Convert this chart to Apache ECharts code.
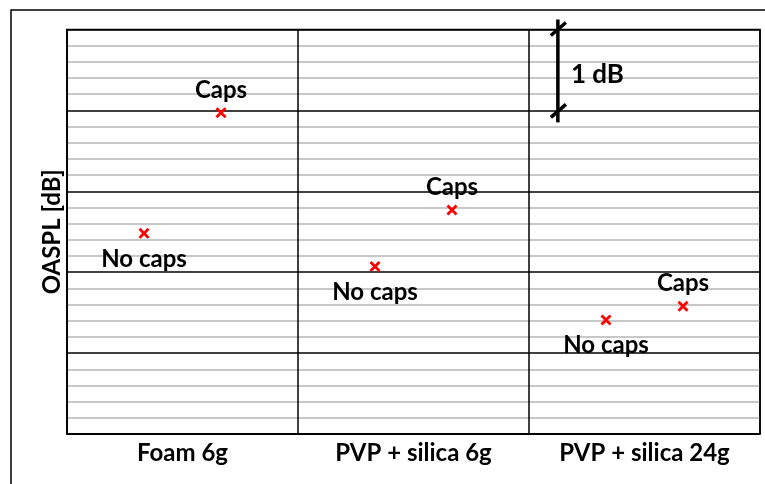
<!DOCTYPE html>
<html>
<head>
<meta charset="utf-8">
<script src="https://cdn.jsdelivr.net/npm/echarts@6/dist/echarts.min.js"></script>
<style>html,body{margin:0;padding:0;background:#fff;}#c{width:765px;height:484px;}</style>
</head>
<body>
<div id="c"></div>
<script>
const categories = ['Foam 6g', 'PVP + silica 6g', 'PVP + silica 24g'];
const noCaps = [2.48, 2.07, 1.41];
const caps = [3.97, 2.77, 1.58];
const yMin = 0, yMax = 5, yInterval = 1;
const scaleBarFrom = 4, scaleBarTo = 5, scaleBarLabel = '1 dB';

const FONT = 'Lato';
const chart = echarts.init(document.getElementById('c'), null, {renderer: 'canvas'});

const noCapsData = noCaps.map((v, i) => [i + 1/3, v]);
const capsData = caps.map((v, i) => [i + 2/3, v]);
const xSym = 'path://M1.8,0 L5,3.2 L8.2,0 L10,1.8 L6.8,5 L10,8.2 L8.2,10 L5,6.8 L1.8,10 L0,8.2 L3.2,5 L0,1.8 Z';
const scaleBarX = 2.125;

chart.setOption({
  animation: false,
  backgroundColor: '#fff',
  graphic: [{
    type: 'rect', z: -10,
    shape: {x: 11, y: 10, width: 800, height: 520},
    style: {fill: 'none', stroke: '#000', lineWidth: 1.5}
  }],
  grid: {left: 67, top: 29.5, right: 5, bottom: 50, show: true, borderColor: '#000', borderWidth: 1.5, backgroundColor: 'transparent'},
  xAxis: [{
    type: 'category', data: categories, boundaryGap: true,
    axisLine: {show: true, lineStyle: {color: '#000', width: 1.5}},
    axisTick: {show: false},
    axisLabel: {color: '#000', fontFamily: FONT, fontWeight: 'bold', fontSize: 24, margin: 7},
    splitLine: {show: true, lineStyle: {color: '#000', width: 1.5}}
  }, {
    type: 'value', min: 0, max: 3, show: false
  }],
  yAxis: {
    type: 'value', min: yMin, max: yMax, interval: yInterval,
    name: 'OASPL [dB]', nameLocation: 'middle', nameGap: 3,
    nameTextStyle: {color: '#000', fontFamily: FONT, fontWeight: 'bold', fontSize: 24},
    axisLine: {show: true, lineStyle: {color: '#000', width: 1.5}},
    axisTick: {show: false},
    axisLabel: {show: false},
    splitLine: {show: true, lineStyle: {color: '#000', width: 1.5}},
    minorTick: {show: false, splitNumber: 5},
    minorSplitLine: {show: true, lineStyle: {color: '#c8c8c8', width: 2}}
  },
  series: [{
    type: 'scatter', xAxisIndex: 1, data: noCapsData,
    symbol: xSym, symbolSize: 11, itemStyle: {color: '#ff0000', opacity: 1},
    label: {show: true, formatter: 'No caps', position: 'bottom', distance: 8, color: '#000', fontFamily: FONT, fontWeight: 'bold', fontSize: 24}
  }, {
    type: 'scatter', xAxisIndex: 1, data: capsData,
    symbol: xSym, symbolSize: 11, itemStyle: {color: '#ff0000', opacity: 1},
    label: {show: true, formatter: 'Caps', position: 'top', distance: 5, color: '#000', fontFamily: FONT, fontWeight: 'bold', fontSize: 24}
  }, {
    type: 'custom', xAxisIndex: 1, clip: false, silent: true,
    data: [[scaleBarX, scaleBarFrom, scaleBarTo]],
    renderItem: function (params, api) {
      const top = api.coord([api.value(0), api.value(2)]);
      const bot = api.coord([api.value(0), api.value(1)]);
      const x = top[0];
      const st = {stroke: '#000', lineWidth: 3.5};
      return {type: 'group', children: [
        {type: 'line', shape: {x1: x, y1: top[1] - 10, x2: x, y2: bot[1] + 12}, style: st},
        {type: 'line', shape: {x1: x - 7, y1: top[1] + 6, x2: x + 8, y2: top[1] - 7}, style: st},
        {type: 'line', shape: {x1: x - 7, y1: bot[1] + 7, x2: x + 8, y2: bot[1] - 6}, style: st},
        {type: 'text', style: {text: scaleBarLabel, x: x + 13, y: (top[1] + bot[1]) / 2 + 5, verticalAlign: 'middle', align: 'left', fill: '#000', font: 'bold 26px ' + FONT}}
      ]};
    }
  }]
});
</script>
</body>
</html>
